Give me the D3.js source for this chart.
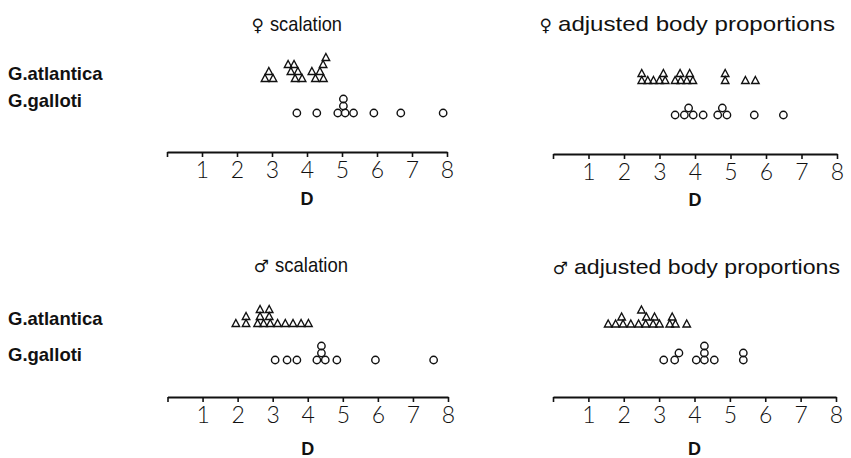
<!DOCTYPE html>
<html><head><meta charset="utf-8">
<script src="https://cdn.jsdelivr.net/npm/d3@7"></script>
<style>
html,body{margin:0;padding:0;background:#fff;}
svg{display:block;}
</style></head>
<body>
<svg id="c" width="851" height="458"></svg>
<script>
// ---------- data ----------
const tickValues = [0, 1, 2, 3, 4, 5, 6, 7, 8];
const speciesLabels = ["G.atlantica", "G.galloti"];
const panelSymbols = ["\u2640", "\u2640", "\u2642", "\u2642"];
const panelTitles = ["scalation", "adjusted body proportions", "scalation", "adjusted body proportions"];
const axisLabel = "D";

// D values per individual, and stack index where equal/overlapping values pile up
const femaleScalAtlantica      = [2.80, 3.03, 2.91, 3.66, 3.86, 3.54, 3.74, 3.46, 3.63, 4.24, 4.47, 4.14, 4.37, 4.46, 4.54];
const femaleScalAtlanticaStack = [0, 0, 1, 0, 0, 1, 1, 2, 2, 0, 0, 1, 1, 2, 3];
const femaleScalGalloti        = [3.71, 4.28, 4.88, 5.09, 5.33, 5.04, 5.04, 5.91, 6.68, 7.89];
const femaleScalGallotiStack   = [0, 0, 0, 0, 0, 1, 2, 0, 0, 0];

const femaleBodyAtlantica      = [2.50, 2.67, 2.83, 3.00, 3.16, 2.50, 3.11, 3.44, 3.60, 3.77, 3.94, 3.58, 3.85, 4.85, 4.85, 5.42, 5.70];
const femaleBodyAtlanticaStack = [0, 0, 0, 0, 0, 1, 1, 0, 0, 0, 0, 1, 1, 0, 1, 0, 0];
const femaleBodyGalloti        = [3.44, 3.70, 3.95, 4.23, 3.82, 4.64, 4.90, 4.77, 5.67, 6.49];
const femaleBodyGallotiStack   = [0, 0, 0, 0, 1, 0, 0, 1, 0, 0];

const maleScalAtlantica      = [1.95, 2.24, 2.57, 2.74, 2.93, 3.14, 3.36, 3.58, 3.81, 4.02, 2.24, 2.64, 2.90, 2.64, 2.90];
const maleScalAtlanticaStack = [0, 0, 0, 0, 0, 0, 0, 0, 0, 0, 1, 1, 1, 2, 2];
const maleScalGalloti        = [3.07, 3.41, 3.69, 4.26, 4.50, 4.39, 4.39, 4.83, 5.93, 7.59];
const maleScalGallotiStack   = [0, 0, 0, 0, 0, 1, 2, 0, 0, 0];

const maleBodyAtlantica      = [1.56, 1.77, 1.98, 2.20, 2.42, 2.62, 2.83, 3.01, 3.30, 3.46, 3.78, 1.94, 2.64, 2.87, 3.37, 2.50];
const maleBodyAtlanticaStack = [0, 0, 0, 0, 0, 0, 0, 0, 0, 0, 0, 1, 1, 1, 1, 2];
const maleBodyGalloti        = [3.13, 3.44, 3.56, 4.05, 4.28, 4.28, 4.28, 4.56, 5.38, 5.38];
const maleBodyGallotiStack   = [0, 0, 1, 0, 0, 1, 2, 0, 0, 1];

// ---------- layout ----------
const panels = [
  {i: 0, titleX: 270, titleW: 72, titleY: 31, x0: 167, x8: 447, axisY: 152, triY: 78, cirY: 113,
   atl: femaleScalAtlantica, atlS: femaleScalAtlanticaStack, gal: femaleScalGalloti, galS: femaleScalGallotiStack, dY: 205},
  {i: 1, titleX: 558, titleW: 277, titleY: 31, x0: 553, x8: 837, axisY: 154, triY: 80, cirY: 115,
   atl: femaleBodyAtlantica, atlS: femaleBodyAtlanticaStack, gal: femaleBodyGalloti, galS: femaleBodyGallotiStack, dY: 206},
  {i: 2, titleX: 275, titleW: 73, titleY: 272, x0: 167.5, x8: 448, axisY: 397, triY: 323, cirY: 360,
   atl: maleScalAtlantica, atlS: maleScalAtlanticaStack, gal: maleScalGalloti, galS: maleScalGallotiStack, dY: 455},
  {i: 3, titleX: 574, titleW: 266, titleY: 274, x0: 553, x8: 836, axisY: 397, triY: 323.5, cirY: 360,
   atl: maleBodyAtlantica, atlS: maleBodyAtlanticaStack, gal: maleBodyGalloti, galS: maleBodyGallotiStack, dY: 455}
];
const rowLabels = [
  {y: 80, t: speciesLabels[0]}, {y: 107, t: speciesLabels[1]},
  {y: 325, t: speciesLabels[0]}, {y: 361, t: speciesLabels[1]}
];

const svg = d3.select("#c");
const triW = 7.5, triH = 7, stepT = 7, r = 3.7, stepC = 7;

svg.selectAll("text.row").data(rowLabels).join("text")
  .attr("class", "row")
  .attr("x", 8).attr("y", d => d.y)
  .attr("font-family", "Liberation Sans, Arial, sans-serif")
  .attr("font-weight", "bold").attr("font-size", 18.5)
  .attr("fill", "#111")
  .text(d => d.t);

panels.forEach(p => {
  const x = d3.scaleLinear().domain([0, 8]).range([p.x0, p.x8]);
  const g = svg.append("g");

  g.append("text")
    .attr("x", p.titleX - 6).attr("y", p.titleY)
    .attr("text-anchor", "end")
    .attr("font-family", "DejaVu Sans, sans-serif").attr("font-size", 17).attr("fill", "#111")
    .text(panelSymbols[p.i]);
  g.append("text")
    .attr("x", p.titleX).attr("y", p.titleY)
    .attr("font-family", "Liberation Sans, Arial, sans-serif")
    .attr("font-size", 21).attr("fill", "#111")
    .attr("textLength", p.titleW).attr("lengthAdjust", "spacingAndGlyphs")
    .text(panelTitles[p.i]);

  const ax = g.append("g").attr("transform", `translate(0,${p.axisY})`)
    .call(d3.axisBottom(x).tickValues(tickValues).tickSize(5).tickSizeOuter(0)
      .tickFormat(d => d === 0 ? "" : d));
  ax.select(".domain").attr("stroke", "#111").attr("stroke-width", 2);
  ax.selectAll(".tick line").attr("stroke", "#111").attr("stroke-width", 1.6);
  ax.selectAll(".tick text")
    .attr("font-family", "Lato, 'DejaVu Sans', sans-serif")
    .attr("font-weight", 300)
    .attr("font-size", 23).attr("fill", "#111").attr("dy", "18px");

  g.append("text")
    .attr("x", x(4)).attr("y", p.dY)
    .attr("text-anchor", "middle")
    .attr("font-family", "Liberation Sans, Arial, sans-serif")
    .attr("font-weight", "bold").attr("font-size", 18).attr("fill", "#111")
    .text(axisLabel);

  const tri = p.atl.map((v, i) => ({v, s: p.atlS[i]}));
  g.selectAll("path.tri").data(tri).join("path")
    .attr("class", "tri")
    .attr("transform", d => `translate(${x(d.v)},${p.triY - d.s * stepT})`)
    .attr("d", `M0,${-triH / 2}L${triW / 2},${triH / 2}L${-triW / 2},${triH / 2}Z`)
    .attr("fill", "none").attr("stroke", "#111").attr("stroke-width", 1.4)
    .attr("stroke-linejoin", "miter");

  const cir = p.gal.map((v, i) => ({v, s: p.galS[i]}));
  g.selectAll("circle.gal").data(cir).join("circle")
    .attr("class", "gal")
    .attr("cx", d => x(d.v)).attr("cy", d => p.cirY - d.s * stepC)
    .attr("r", r)
    .attr("fill", "none").attr("stroke", "#111").attr("stroke-width", 1.4);
});
</script>
</body></html>
